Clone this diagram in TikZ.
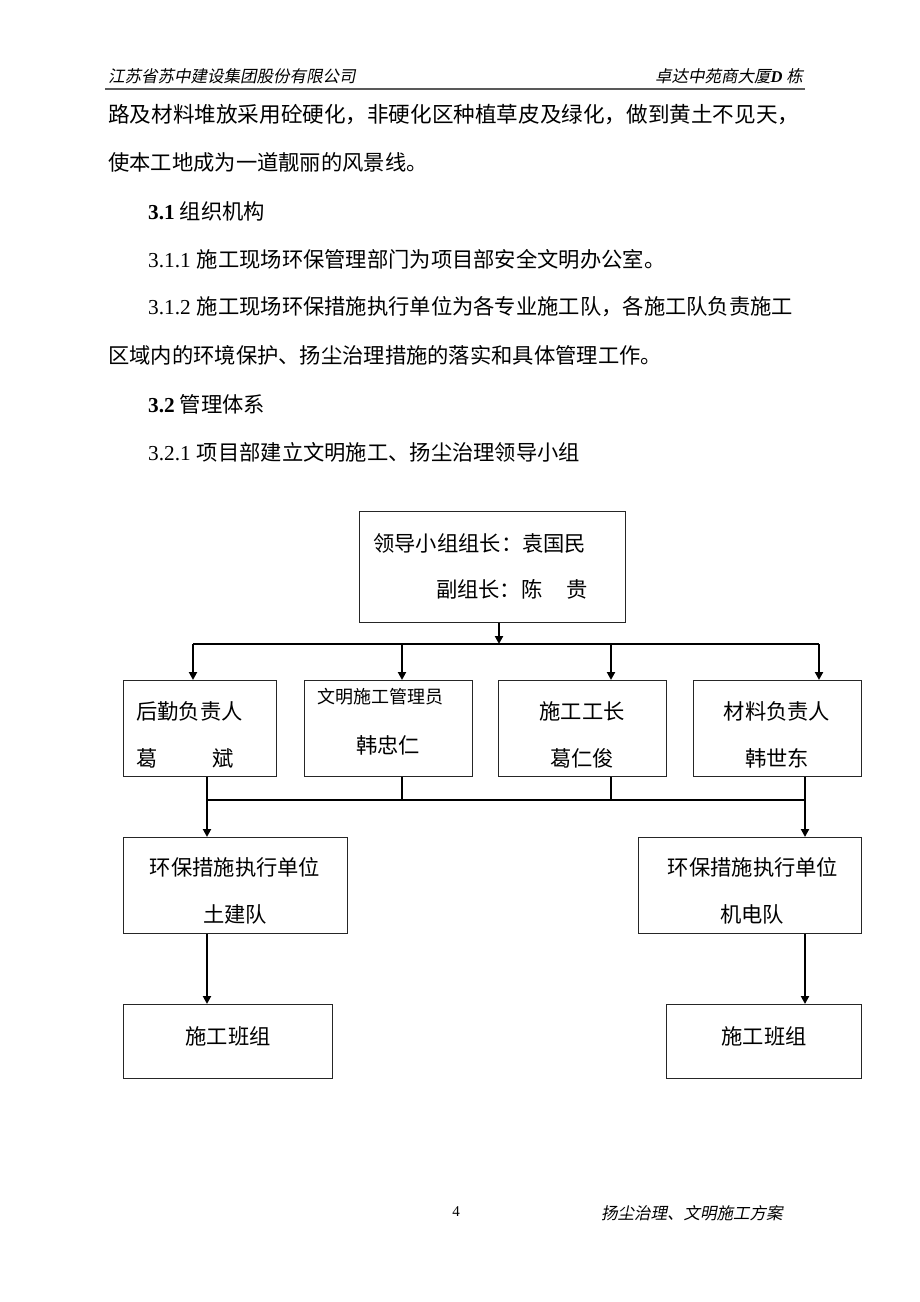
\documentclass[tikz,border=0pt]{standalone}
\usepackage{fontspec}
\setmainfont{Liberation Serif}
\newfontfamily\cjk{Noto Sans CJK SC}
\newfontfamily\cjkit{Noto Sans CJK SC}[FakeSlant=0.2]
\usetikzlibrary{arrows.meta}
\begin{document}
\begin{tikzpicture}[x=1pt,y=-1pt,
  box/.style={draw=black!85, line width=1.1pt, inner sep=0pt, anchor=north west},
  conn/.style={line width=2pt, black},
  arr/.style={conn, -{Triangle[length=8pt,width=8pt]}},
  txt/.style={inner sep=0pt, font=\cjk\fontsize{21.3}{21.3}\selectfont},
  small/.style={inner sep=0pt, font=\cjk\fontsize{18}{18}\selectfont},
  hdr/.style={inner sep=0pt, font=\cjkit\fontsize{16.5}{16.5}\selectfont},
]
\useasboundingbox[fill=white] (0,0) rectangle (920,1302);

% header
\node[hdr, anchor=west] (hl) at (108,76) {江苏省苏中建设集团股份有限公司};
\node[hdr, anchor=east] (hr) at (803,76) {卓达中苑商大厦{\rmfamily\bfseries\itshape D} 栋};
\draw[line width=2pt, black!65] (105,88.5) -- (805,88.5);

% body text
\node[txt, anchor=west, font=\cjk\fontsize{21.6}{21.6}\selectfont] (p1) at (108,115) {路及材料堆放采用砼硬化，非硬化区种植草皮及绿化，做到黄土不见天，};
\node[txt, anchor=west] (p2) at (108,162) {使本工地成为一道靓丽的风景线。};
\node[txt, anchor=west] (p3) at (148,211) {{\rmfamily\bfseries 3.1}\hspace{5pt}组织机构};
\node[txt, anchor=west] (p4) at (148,259) {{\rmfamily 3.1.1}\hspace{6pt}施工现场环保管理部门为项目部安全文明办公室。};
\node[txt, anchor=west] (p5) at (148,307) {{\rmfamily 3.1.2}\hspace{6pt}施工现场环保措施执行单位为各专业施工队，各施工队负责施工};
\node[txt, anchor=west] (p6) at (108,355) {区域内的环境保护、扬尘治理措施的落实和具体管理工作。};
\node[txt, anchor=west] (p7) at (148,404) {{\rmfamily\bfseries 3.2}\hspace{5pt}管理体系};
\node[txt, anchor=west] (p8) at (148,452) {{\rmfamily 3.2.1}\hspace{6pt}项目部建立文明施工、扬尘治理领导小组};

% boxes
\node[box, minimum width=266pt, minimum height=111pt] (top) at (359,511) {};
\node[box, minimum width=153pt, minimum height=96pt] (b1) at (123,680) {};
\node[box, minimum width=168pt, minimum height=96pt] (b2) at (304,680) {};
\node[box, minimum width=168pt, minimum height=96pt] (b3) at (498,680) {};
\node[box, minimum width=168pt, minimum height=96pt] (b4) at (693,680) {};
\node[box, minimum width=224pt, minimum height=96pt] (l1) at (123,837) {};
\node[box, minimum width=223pt, minimum height=96pt] (r1) at (638,837) {};
\node[box, minimum width=209pt, minimum height=74pt] (l2) at (123,1004) {};
\node[box, minimum width=195pt, minimum height=74pt] (r2) at (666,1004) {};

% box texts
\node[txt, anchor=west] (tt1) at (373,543) {领导小组组长：袁国民};
\node[txt, anchor=east] (tt2) at (588,589) {副组长：陈\hspace{24pt}贵};
\node[txt, anchor=west] (b1a) at (136,711) {后勤负责人};
\node[txt, anchor=west] (b1b) at (136,758) {葛\hspace{55pt}斌};
\node[small] (b2a) at (380,697) {文明施工管理员};
\node[txt] (b2b) at (388,745) {韩忠仁};
\node[txt] (b3a) at (582,711) {施工工长};
\node[txt] (b3b) at (582,758) {葛仁俊};
\node[txt] (b4a) at (777,711) {材料负责人};
\node[txt] (b4b) at (777,758) {韩世东};
\node[txt] (l1a) at (235,867) {环保措施执行单位};
\node[txt] (l1b) at (235,914) {土建队};
\node[txt] (r1a) at (753,867) {环保措施执行单位};
\node[txt] (r1b) at (752,914) {机电队};
\node[txt] (l2a) at (228,1036) {施工班组};
\node[txt] (r2a) at (764,1036) {施工班组};

% connectors
\coordinate (t0) at (499,622);
\coordinate (d1) at (193,644);
\coordinate (d2) at (402,644);
\coordinate (d3) at (611,644);
\coordinate (d4) at (819,644);
\draw[arr] (t0 |- top.south) -- (t0 |- d1);
\draw[conn] (d1) -- (d4);
\draw[arr] (d1) -- (d1 |- b1.north);
\draw[arr] (d2) -- (d2 |- b2.north);
\draw[arr] (d3) -- (d3 |- b3.north);
\draw[arr] (d4) -- (d4 |- b4.north);

\coordinate (u1) at (207,800);
\coordinate (u2) at (402,800);
\coordinate (u3) at (611,800);
\coordinate (u4) at (805,800);
\draw[conn] (u1 |- b1.south) -- (u1);
\draw[conn] (u2 |- b2.south) -- (u2);
\draw[conn] (u3 |- b3.south) -- (u3);
\draw[conn] (u4 |- b4.south) -- (u4);
\draw[conn] (u1) -- (u4);
\draw[arr] (u1) -- (u1 |- l1.north);
\draw[arr] (u4) -- (u4 |- r1.north);
\draw[arr] (u1 |- l1.south) -- (u1 |- l2.north);
\draw[arr] (u4 |- r1.south) -- (u4 |- r2.north);

% footer
\node[inner sep=0pt, font=\rmfamily\fontsize{15}{15}\selectfont] (pg) at (456,1212) {4};
\node[hdr, anchor=west] (ft) at (601,1213) {扬尘治理、文明施工方案};
\end{tikzpicture}
\end{document}
